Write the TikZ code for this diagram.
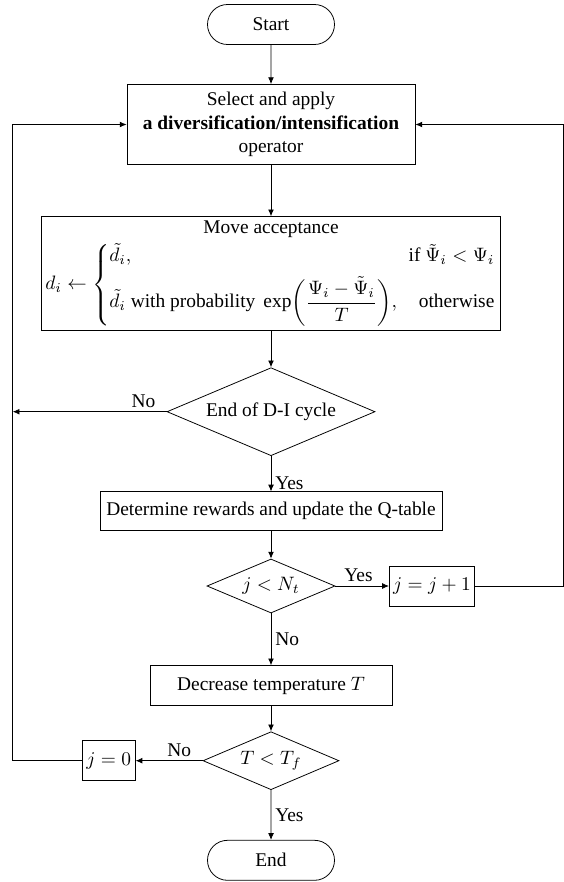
\documentclass[tikz,border=0pt]{standalone}
\usepackage{amsmath}
\usepackage{fontspec}
\setmainfont{Liberation Serif}
\usepackage{tikz}
\usetikzlibrary{shapes.geometric,shapes.misc,arrows.meta}
\newcommand{\px}{0.515pt}

\tikzset{
  term/.style={draw,rounded rectangle,minimum width=127*\px,minimum height=40*\px,inner sep=0pt},
  proc/.style={draw,rectangle,align=center,inner sep=2pt},
  decide/.style={draw,diamond,aspect=2.36,inner sep=0pt},
  flow/.style={-{Latex[length=3.5pt,width=3pt]}},
  lbl/.style={inner sep=2pt}
}

\begin{document}
\begin{tikzpicture}[x=\px,y=-\px]
\useasboundingbox (0,0) rectangle (564,882);
\node[term] (start) at (271,24.5) {Start};
\node[proc,minimum width=288*\px,minimum height=80*\px] (select) at (271,124.5) {Select and apply\\ \textbf{a diversification/intensification}\\ operator};
\node[proc,minimum width=439*\px,minimum height=114*\px] (accept) at (271,273.7) {Move acceptance\\[2pt]
  $d_i \leftarrow \left\{\begin{array}{@{}l@{\hspace{0.6em}}r@{}}
    \tilde{d}_i, & \text{if } \tilde{\Psi}_i < \Psi_i\\[4pt]
    \tilde{d}_i \text{ with probability } \exp\biggl(\dfrac{\Psi_i-\tilde{\Psi}_i}{T}\biggr), & \text{otherwise}
  \end{array}\right.$};
\node[decide,minimum width=208*\px,minimum height=88*\px] (endcycle) at (271,411.7) {End of D-I cycle};
\node[proc,minimum width=342*\px,minimum height=39*\px] (reward) at (271,511.3) {Determine rewards and update the Q-table};
\node[decide,minimum width=128*\px,minimum height=54*\px] (jcheck) at (271,586) {$j<N_t$};
\node[proc,minimum width=84*\px,minimum height=40*\px] (jinc) at (432,586) {$j=j+1$};
\node[proc,minimum width=242*\px,minimum height=40*\px] (cool) at (271,685.7) {Decrease temperature $T$};
\node[decide,minimum width=136*\px,minimum height=58*\px] (tcheck) at (271,760.7) {$T<T_f$};
\node[proc,minimum width=53*\px,minimum height=40*\px] (jreset) at (108.7,760.7) {$j=0$};
\node[term] (stop) at (271,860.3) {End};

% loop-back corners
\coordinate (lpass) at (12.7,411.7);
\coordinate (rloop) at (563.5,586);

\draw[flow] (start) -- (select);
\draw[flow] (select) -- (accept);
\draw[flow] (accept) -- (endcycle);
\draw[flow] (endcycle) -- node[lbl,right,pos=0.76]{Yes} (reward);
\draw[flow] (endcycle) -- node[lbl,above,pos=0.15]{No} (lpass);
\draw[flow] (reward) -- (jcheck);
\draw[flow] (jcheck) -- node[lbl,above,pos=0.43]{Yes} (jinc);
\draw[flow] (jcheck) -- node[lbl,right,pos=0.5]{No} (cool);
\draw[flow] (cool) -- (tcheck);
\draw[flow] (tcheck) -- node[lbl,above,pos=0.35]{No} (jreset);
\draw[flow] (tcheck) -- node[lbl,right]{Yes} (stop);
\draw[flow] (jreset.west) -| (lpass) |- (select.west);
\draw[flow] (jinc) -- (rloop) |- (select.east);
\end{tikzpicture}
\end{document}
